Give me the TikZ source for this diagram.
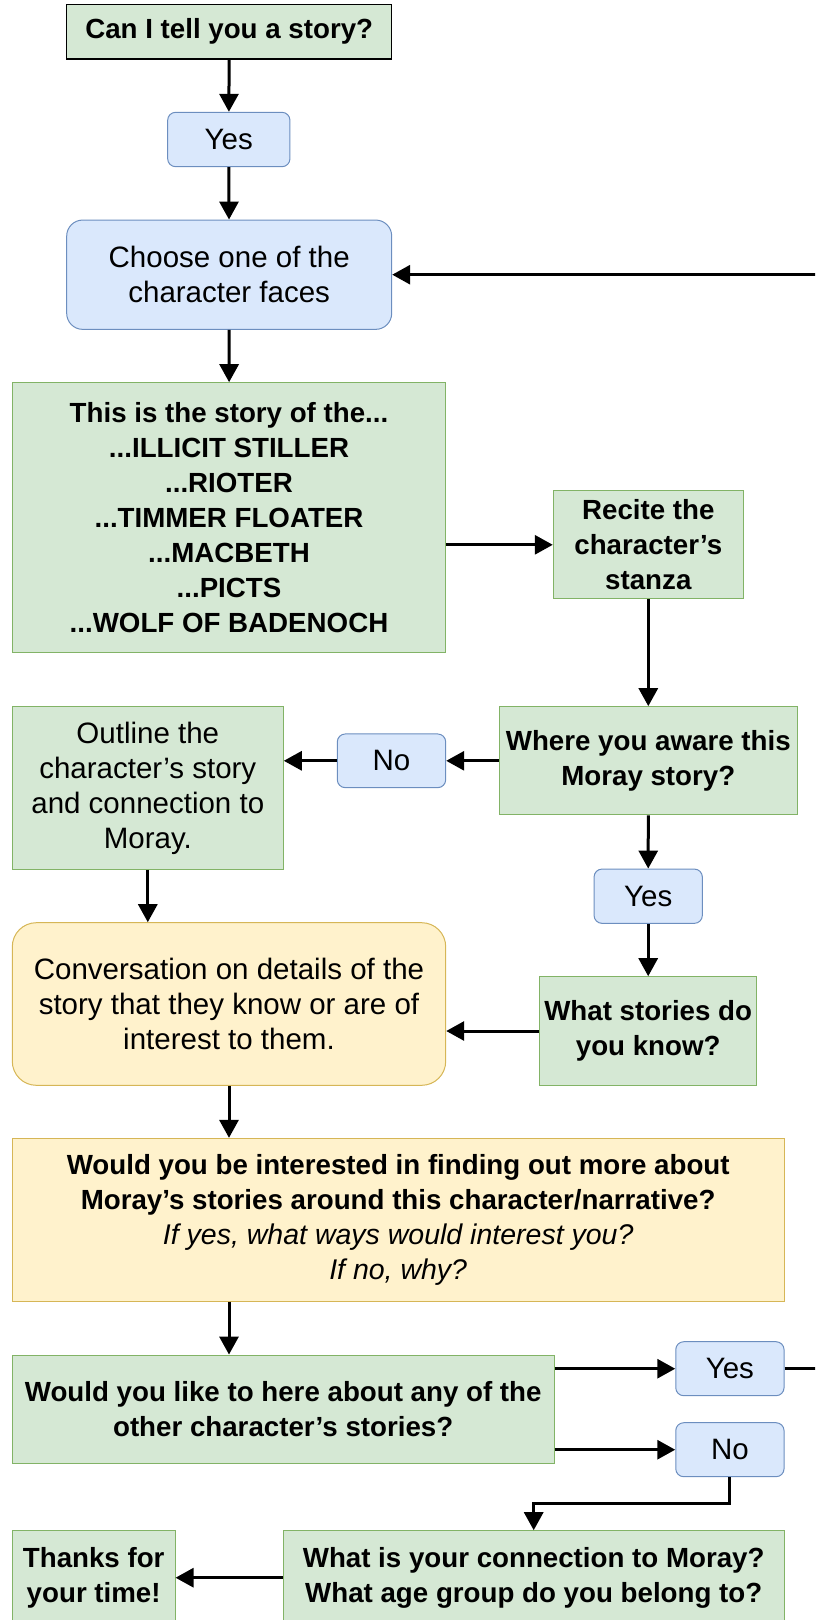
\documentclass[tikz,border=0pt]{standalone}
\usepackage{fontspec}
\setmainfont{Liberation Sans}
\usetikzlibrary{arrows.meta}
\definecolor{gfill}{HTML}{D5E8D4}
\definecolor{gline}{HTML}{82B366}
\definecolor{bfill}{HTML}{DAE8FC}
\definecolor{bline}{HTML}{6C8EBF}
\definecolor{yfill}{HTML}{FFF2CC}
\definecolor{yline}{HTML}{D6B656}
\newcommand\bfnt{\fontsize{27.7}{35}\selectfont\bfseries}
\newcommand\rgfnt{\fontsize{29.5}{35}\selectfont}
\newcommand\itfnt{\fontsize{28.5}{35}\selectfont\mdseries\itshape}
\begin{document}
\begin{tikzpicture}[x=1pt,y=-1pt,
  base/.style={line width=1pt, inner sep=0pt, align=center},
  gbox/.style={base, draw=gline, fill=gfill, font=\bfnt},
  gboxr/.style={base, draw=gline, fill=gfill, font=\rgfnt},
  bluebox/.style={base, draw=bline, fill=bfill, rounded corners=8pt, font=\rgfnt},
  ybox/.style={base, draw=yline, fill=yfill},
  flow/.style={line width=3pt, -{Triangle[length=18pt,width=19pt]}}]
\useasboundingbox (0,0) rectangle (815,1620);
\clip (0,0) rectangle (815,1620);

\node[gbox, draw=black, line width=1.2pt, minimum width=325pt, minimum height=54.7pt] (can) at (229.2,31.7) {Can I tell you a story?};
\node[bluebox, minimum width=122.3pt, minimum height=54.4pt] (yes1) at (228.8,139.5) {Yes};
\node[bluebox, rounded corners=16pt, minimum width=325pt, minimum height=109.3pt] (choose) at (229.2,274.7) {Choose one of the\\character faces};
\node[gbox, minimum width=433.4pt, minimum height=270pt] (story) at (229,517.7) {This is the story of the...\\...ILLICIT STILLER\\...RIOTER\\...TIMMER FLOATER\\...MACBETH\\...PICTS\\...WOLF OF BADENOCH};
\node[gbox, minimum width=190pt, minimum height=108.3pt] (recite) at (648.3,544.8) {Recite the\\character’s\\stanza};
\node[gbox, minimum width=298pt, minimum height=108.3pt] (where) at (648.3,760.8) {Where you aware this\\Moray story?};
\node[bluebox, minimum width=108.4pt, minimum height=53.7pt] (no1) at (391.5,760.8) {No};
\node[gboxr, minimum width=271pt, minimum height=162.6pt] (outline) at (147.8,788) {Outline the\\character’s story\\and connection to\\Moray.};
\node[bluebox, minimum width=108.3pt, minimum height=54.3pt] (yes3) at (648.2,896.2) {Yes};
\node[gbox, minimum width=217pt, minimum height=108.6pt] (whatst) at (648.2,1031) {What stories do\\you know?};
\node[ybox, rounded corners=24pt, font=\rgfnt, minimum width=433.4pt, minimum height=162.6pt] (conv) at (229,1004) {Conversation on details of the\\story that they know or are of\\interest to them.};
\node[ybox, font=\bfnt, minimum width=771.7pt, minimum height=162.7pt] (would) at (398.2,1219.7) {Would you be interested in finding out more about\\Moray's stories around this character/narrative?\\{\itfnt If yes, what ways would interest you?}\\{\itfnt If no, why?}};
\node[gbox, minimum width=541.7pt, minimum height=108.3pt] (like) at (283.2,1409.2) {Would you like to here about any of the\\other character's stories?};
\node[bluebox, minimum width=108.3pt, minimum height=54pt] (yes2) at (729.9,1368.7) {Yes};
\node[bluebox, minimum width=108.3pt, minimum height=54pt] (no2) at (729.9,1449.7) {No};
\node[gbox, minimum width=500.7pt, minimum height=94pt] (whatis) at (533.7,1577.7) {What is your connection to Moray?\\What age group do you belong to?};
\node[gbox, minimum width=162.7pt, minimum height=94pt] (thanks) at (93.7,1577.7) {Thanks for\\your time!};

\draw[flow] (can) -- (yes1);
\draw[flow] (yes1) -- (choose);
\draw[flow] (choose) -- (story);
\draw[flow] (recite.west -| story.east) -- (recite.west);
\draw[flow] (recite) -- (where);
\draw[flow] (where) -- (no1);
\draw[flow] (no1.west) -- (no1.west -| outline.east);
\draw[flow] (where) -- (yes3);
\draw[flow] (yes3) -- (whatst);
\draw[flow] (outline.south) -- (outline.south |- conv.north);
\draw[flow] (whatst.west) -- (whatst.west -| conv.east);
\draw[flow] (conv.south) -- (conv.south |- would.north);
\draw[flow] (would.south -| conv.south) -- (like.north -| conv.south);
\draw[flow] (yes2.west -| like.east) -- (yes2.west);
\draw[flow] (no2.west -| like.east) -- (no2.west);
\coordinate (bend) at (729.9,1503.3);
\draw[flow] (no2.south) -- (bend) -| (whatis.north);
\draw[flow] (whatis.west) -- (thanks.east);
\coordinate (loop) at (840,1368.7);
\draw[flow] (yes2.east) -- (loop) |- (choose.east);
\end{tikzpicture}
\end{document}
